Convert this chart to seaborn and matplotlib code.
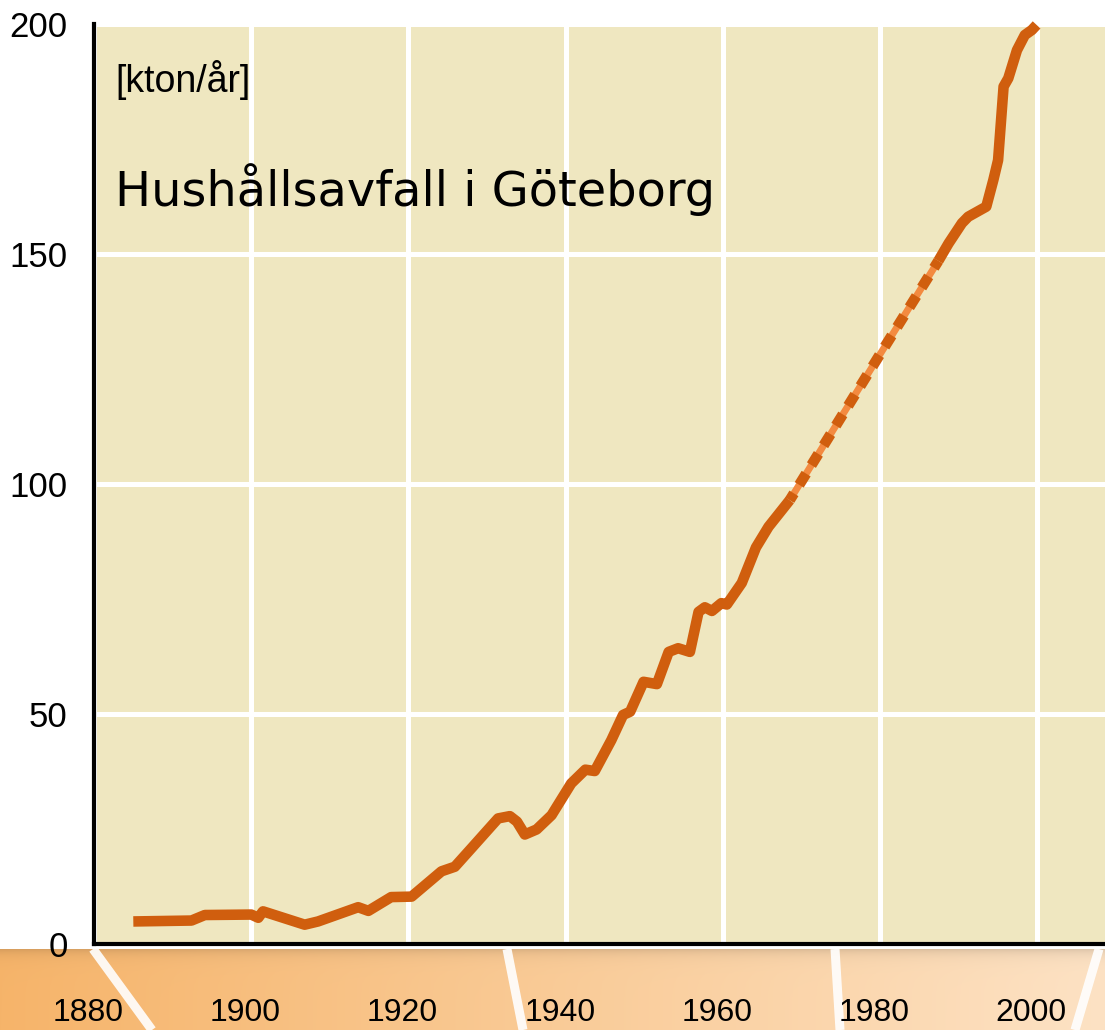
import numpy as np
import pandas as pd
import matplotlib
matplotlib.use("Agg")
import matplotlib.pyplot as plt
import matplotlib.transforms as mtransforms
import seaborn as sns

# ---------------- data ----------------
years_early = [1885.0, 1892.4, 1894.1, 1900.0, 1900.9, 1901.5, 1906.8, 1908.5, 1913.6, 1914.9,
               1917.8, 1920.4, 1924.2, 1925.9, 1928.0, 1931.4, 1932.9, 1933.8, 1934.8, 1936.3,
               1938.2, 1940.7, 1942.5, 1943.7, 1945.8, 1947.3, 1948.2, 1949.9, 1951.6, 1953.1,
               1954.3, 1955.8, 1956.9, 1957.7, 1958.6, 1959.8, 1960.5, 1962.4, 1964.2, 1965.8,
               1968.5]
waste_early = [4.9, 5.1, 6.3, 6.4, 5.7, 7.1, 4.2, 4.9, 8.0, 7.2,
               10.2, 10.3, 15.8, 16.8, 20.8, 27.3, 27.8, 26.6, 23.8, 24.9,
               28.0, 34.9, 37.9, 37.6, 44.3, 49.8, 50.5, 57.0, 56.5, 63.5,
               64.3, 63.5, 72.2, 73.2, 72.4, 74.1, 73.8, 78.5, 86.2, 90.7,
               96.5]

years_est = [1968.5, 1979.8, 1987.4]
waste_est = [96.5, 127.7, 148.5]

years_late = [1987.4, 1988.7, 1990.4, 1991.2, 1993.5, 1994.4, 1995.0, 1995.7, 1996.3,
              1997.4, 1998.4, 1999.3, 1999.9]
waste_late = [148.5, 152.3, 156.7, 158.1, 160.3, 166.1, 170.4, 186.4, 188.2,
              194.3, 197.6, 198.7, 199.8]

x_ticks = [1880, 1900, 1920, 1940, 1960, 1980, 2000]
y_ticks = [0, 50, 100, 150, 200]
unit_label = "[kton/år]"
title_text = "Hushållsavfall i Göteborg"

# ---------------- style ----------------
BEIGE = "#EFE7C0"
DARK = "#D05E0E"
LIGHT = "#F38A40"

sns.set_style("white", {"axes.facecolor": BEIGE, "grid.color": "white",
                        "text.color": "black", "xtick.color": "black",
                        "ytick.color": "black"})
narrow = ["Liberation Sans", "DejaVu Sans"]
plt.rcParams["font.family"] = narrow

W, H = 1105, 1030
fig = plt.figure(figsize=(W / 100, H / 100), dpi=100)
fig.patch.set_facecolor("white")

# decorative orange floor band
band = fig.add_axes([0, 0, 1, 81 / H], zorder=0)
nx, ny = 400, 81
t = np.linspace(0, 1, nx)
left = np.array([246, 180, 106]) / 255
right = np.array([253, 226, 196]) / 255
row = left[None, :] * (1 - t[:, None]) + right[None, :] * t[:, None]
img = np.repeat(row[None, :, :], ny, axis=0)
yy = np.arange(ny)
shade = 1 - 0.12 * np.exp(-yy / 6.0)
img = img * shade[:, None, None]
band.imshow(img, extent=[0, W, H, H - 81], aspect="auto", origin="upper")
for (x0, x1) in [(93, 152), (507, 523), (835, 840), (1099, 1075)]:
    band.plot([x0, x1], [H - 81, H], color="white", lw=6.5, alpha=0.9,
              solid_capstyle="butt")
band.set_xlim(0, W)
band.set_ylim(H, H - 81)
band.axis("off")

# main axes
ax = fig.add_axes([94 / W, 86 / H, 1 - 94 / W, 920 / H], zorder=1)
ax.set_facecolor(BEIGE)
ax.set_xlim(1880, 2008.6)
ax.set_ylim(0, 200)
ax.set_xticks(x_ticks)
ax.set_yticks(y_ticks)
ax.grid(True, color="white", lw=3.6)
ax.set_axisbelow(True)

df_early = pd.DataFrame({"year": years_early, "waste": waste_early})
df_est = pd.DataFrame({"year": years_est, "waste": waste_est})
df_late = pd.DataFrame({"year": years_late, "waste": waste_late})

sns.lineplot(data=df_early, x="year", y="waste", ax=ax, color=DARK, lw=7.6,
             sort=False, estimator=None, solid_capstyle="butt",
             solid_joinstyle="round", clip_on=False)
sns.lineplot(data=df_est, x="year", y="waste", ax=ax, color=LIGHT, lw=5,
             sort=False, estimator=None, solid_capstyle="butt")
sns.lineplot(data=df_est, x="year", y="waste", ax=ax, color=DARK, lw=7.6,
             sort=False, estimator=None, linestyle=(0.5, (1.25, 0.95)),
             dash_capstyle="butt")
sns.lineplot(data=df_late, x="year", y="waste", ax=ax, color=DARK, lw=7.6,
             sort=False, estimator=None, solid_capstyle="butt",
             solid_joinstyle="round", clip_on=False)

ax.set_xlabel("")
ax.set_ylabel("")
for s in ["top", "right"]:
    ax.spines[s].set_visible(False)
for s in ["left", "bottom"]:
    ax.spines[s].set_visible(True)
    ax.spines[s].set_color("black")
    ax.spines[s].set_linewidth(3)

ax.tick_params(axis="both", length=0, labelcolor="black")
ax.tick_params(axis="y", pad=19, labelsize=25)
ax.tick_params(axis="x", pad=39, labelsize=23)
ax.set_xticklabels([str(v) for v in x_ticks], family=narrow)
ax.set_yticklabels([str(v) for v in y_ticks], family=narrow)
offset = mtransforms.ScaledTranslation(-6 / 100, 0, fig.dpi_scale_trans)
for lab in ax.get_xticklabels():
    lab.set_transform(lab.get_transform() + offset)

ax.text(0.021, 0.939, unit_label, transform=ax.transAxes, ha="left", va="center",
        fontsize=27, family=narrow, color="black")
ax.text(0.021, 0.8196, title_text, transform=ax.transAxes, ha="left", va="center",
        fontsize=34.5, family=["DejaVu Sans"], color="black")

fig.savefig("out.png", dpi=100, facecolor="white")
